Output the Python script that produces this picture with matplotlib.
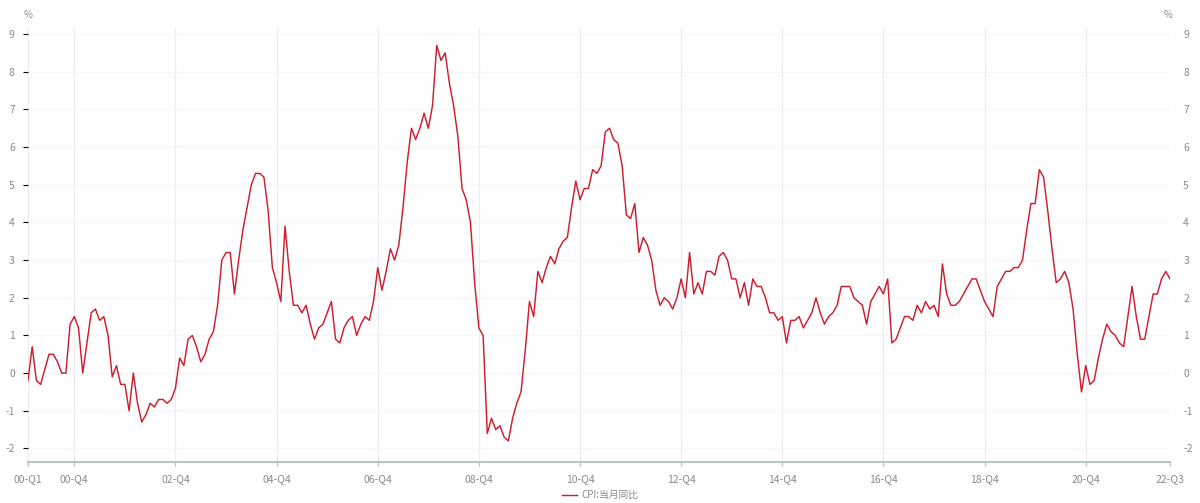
import matplotlib
matplotlib.use("Agg")
import matplotlib.pyplot as plt
import numpy as np

plt.rcParams['font.family'] = ['Noto Sans CJK SC', 'DejaVu Sans']
plt.rcParams['axes.unicode_minus'] = False

# Monthly CPI YoY (%), Jan 2000 - Aug 2022
cpi_2000 = [-0.2, 0.7, -0.2, -0.3, 0.1, 0.5, 0.5, 0.3, 0.0, 0.0, 1.3, 1.5]
cpi_2001 = [1.2, 0.0, 0.8, 1.6, 1.7, 1.4, 1.5, 1.0, -0.1, 0.2, -0.3, -0.3]
cpi_2002 = [-1.0, 0.0, -0.8, -1.3, -1.1, -0.8, -0.9, -0.7, -0.7, -0.8, -0.7, -0.4]
cpi_2003 = [0.4, 0.2, 0.9, 1.0, 0.7, 0.3, 0.5, 0.9, 1.1, 1.8, 3.0, 3.2]
cpi_2004 = [3.2, 2.1, 3.0, 3.8, 4.4, 5.0, 5.3, 5.3, 5.2, 4.3, 2.8, 2.4]
cpi_2005 = [1.9, 3.9, 2.7, 1.8, 1.8, 1.6, 1.8, 1.3, 0.9, 1.2, 1.3, 1.6]
cpi_2006 = [1.9, 0.9, 0.8, 1.2, 1.4, 1.5, 1.0, 1.3, 1.5, 1.4, 1.9, 2.8]
cpi_2007 = [2.2, 2.7, 3.3, 3.0, 3.4, 4.4, 5.6, 6.5, 6.2, 6.5, 6.9, 6.5]
cpi_2008 = [7.1, 8.7, 8.3, 8.5, 7.7, 7.1, 6.3, 4.9, 4.6, 4.0, 2.4, 1.2]
cpi_2009 = [1.0, -1.6, -1.2, -1.5, -1.4, -1.7, -1.8, -1.2, -0.8, -0.5, 0.6, 1.9]
cpi_2010 = [1.5, 2.7, 2.4, 2.8, 3.1, 2.9, 3.3, 3.5, 3.6, 4.4, 5.1, 4.6]
cpi_2011 = [4.9, 4.9, 5.4, 5.3, 5.5, 6.4, 6.5, 6.2, 6.1, 5.5, 4.2, 4.1]
cpi_2012 = [4.5, 3.2, 3.6, 3.4, 3.0, 2.2, 1.8, 2.0, 1.9, 1.7, 2.0, 2.5]
cpi_2013 = [2.0, 3.2, 2.1, 2.4, 2.1, 2.7, 2.7, 2.6, 3.1, 3.2, 3.0, 2.5]
cpi_2014 = [2.5, 2.0, 2.4, 1.8, 2.5, 2.3, 2.3, 2.0, 1.6, 1.6, 1.4, 1.5]
cpi_2015 = [0.8, 1.4, 1.4, 1.5, 1.2, 1.4, 1.6, 2.0, 1.6, 1.3, 1.5, 1.6]
cpi_2016 = [1.8, 2.3, 2.3, 2.3, 2.0, 1.9, 1.8, 1.3, 1.9, 2.1, 2.3, 2.1]
cpi_2017 = [2.5, 0.8, 0.9, 1.2, 1.5, 1.5, 1.4, 1.8, 1.6, 1.9, 1.7, 1.8]
cpi_2018 = [1.5, 2.9, 2.1, 1.8, 1.8, 1.9, 2.1, 2.3, 2.5, 2.5, 2.2, 1.9]
cpi_2019 = [1.7, 1.5, 2.3, 2.5, 2.7, 2.7, 2.8, 2.8, 3.0, 3.8, 4.5, 4.5]
cpi_2020 = [5.4, 5.2, 4.3, 3.3, 2.4, 2.5, 2.7, 2.4, 1.7, 0.5, -0.5, 0.2]
cpi_2021 = [-0.3, -0.2, 0.4, 0.9, 1.3, 1.1, 1.0, 0.8, 0.7, 1.5, 2.3, 1.5]
cpi_2022 = [0.9, 0.9, 1.5, 2.1, 2.1, 2.5, 2.7, 2.5]

cpi = (cpi_2000 + cpi_2001 + cpi_2002 + cpi_2003 + cpi_2004 + cpi_2005 + cpi_2006 +
       cpi_2007 + cpi_2008 + cpi_2009 + cpi_2010 + cpi_2011 + cpi_2012 + cpi_2013 +
       cpi_2014 + cpi_2015 + cpi_2016 + cpi_2017 + cpi_2018 + cpi_2019 + cpi_2020 +
       cpi_2021 + cpi_2022)

tick_labels = ["00-Q1", "00-Q4", "02-Q4", "04-Q4", "06-Q4", "08-Q4", "10-Q4",
               "12-Q4", "14-Q4", "16-Q4", "18-Q4", "20-Q4", "22-Q3"]
tick_months = [0, 11, 35, 59, 83, 107, 131, 155, 179, 203, 227, 251, len(cpi) - 1]
y_ticks = list(range(-2, 10))
legend_label = "CPI:当月同比"

fig = plt.figure(figsize=(12, 5.03), dpi=100)
ax = fig.add_axes([0.0233, 0.0815, 0.9517, 0.8628])
x = np.arange(len(cpi))
line, = ax.plot(x, cpi, color="#cf1d30", linewidth=1.05, label=legend_label)

ax.set_xlim(0, len(cpi) - 1)
ax.set_ylim(-2.36, 9.16)
ax.set_yticks(y_ticks)
ax.set_xticks(tick_months)
ax.set_xticklabels(tick_labels)

for s in ["top", "left", "right"]:
    ax.spines[s].set_visible(False)
ax.spines["bottom"].set_color("#b5c7c5")
ax.spines["bottom"].set_linewidth(1.5)

ax.grid(axis="x", color="#ececf0", linewidth=0.9)
ax.grid(axis="y", color="#f6f6f8", linewidth=0.9)
ax.set_axisbelow(True)

ax.tick_params(axis="x", colors="#b5c7c5", labelcolor="#8a8a8a", labelsize=7.5,
               length=3, width=1, pad=6)
ax.tick_params(axis="y", left=False, right=False, labelleft=True, labelright=False,
               labelcolor="#8a8a8a", labelsize=7.5, pad=6)

ax2 = ax.twinx()
ax2.set_ylim(ax.get_ylim())
ax2.set_yticks(y_ticks)
for s in ["top", "left", "right", "bottom"]:
    ax2.spines[s].set_visible(False)
ax2.tick_params(axis="y", right=False, labelcolor="#8a8a8a", labelsize=7.5, pad=6)

fig.text(28 / 1200, 1 - 15 / 503, "%", fontsize=7, color="#8a8a8a", ha="center", va="center")
fig.text(1168 / 1200, 1 - 15 / 503, "%", fontsize=7, color="#8a8a8a", ha="center", va="center")

fig.legend(handles=[line], labels=[legend_label], loc="center",
           bbox_to_anchor=(0.5, 1 - 495 / 503), frameon=False, fontsize=7,
           labelcolor="#8a8a8a", handlelength=1.6, handletextpad=0.4)

fig.savefig("out.png", dpi=100, facecolor="white")
